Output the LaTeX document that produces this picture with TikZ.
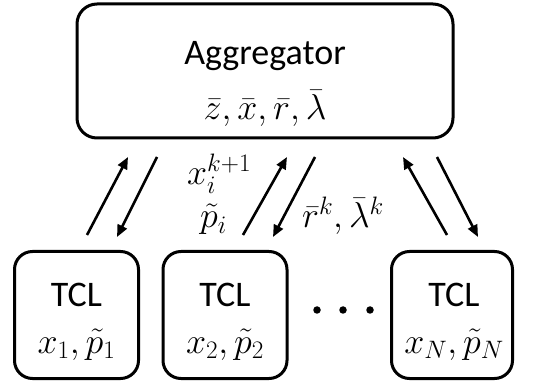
\RequirePackage{fix-cm}
\documentclass[tikz,border=0pt]{standalone}
\usepackage{fontspec}
\newfontfamily\boxfont{Carlito}
\usetikzlibrary{arrows.meta}
\tikzset{
  box/.style={draw, line width=3pt, rounded corners=20pt, inner sep=0pt},
  title/.style={font=\boxfont\fontsize{36}{40}\selectfont, inner sep=0pt, anchor=base},
  vars/.style={font=\fontsize{36}{40}\selectfont, inner sep=0pt, anchor=base},
  link/.style={line width=2.6pt, -{Triangle[length=12pt,width=10pt]}},
}
\begin{document}
\begin{tikzpicture}[x=1pt,y=-1pt]
\useasboundingbox (0,0) rectangle (539,385);

% aggregator
\node[box, minimum width=376pt, minimum height=134pt] (agg) at (265,71) {};
\node[title] (aggname) at (265,65) {Aggregator};
\node[vars] (aggvars) at (265,120) {$\bar z,\bar x,\bar r,\bar\lambda$};

% local units
\node[box, minimum width=124pt, minimum height=127pt, rounded corners=18pt] (tcl1) at (76.5,315) {};
\node[box, minimum width=124pt, minimum height=127pt, rounded corners=18pt] (tcl2) at (225,315) {};
\node[box, minimum width=121pt, minimum height=127pt, rounded corners=18pt] (tclN) at (452,315) {};
\foreach \n/\x/\v in {1/76.5/{x_1,\tilde p_1}, 2/225/{x_2,\tilde p_2}, N/454/{x_N,\tilde p_N}}{
  \node[title] (name\n) at (\x,307) {TCL};
  \node[vars] (vars\n) at (\x,353) {$\v$};
}

% ellipsis
\foreach \i/\x in {1/317,2/343,3/370}{
  \node[circle, fill, inner sep=0pt, minimum size=7.5pt] (dot\i) at (\x,310) {};
}

% message arrows
\coordinate (u1a) at (87,235);  \coordinate (u1b) at (128,157);
\coordinate (d1a) at (157,157); \coordinate (d1b) at (117,237);
\coordinate (u2a) at (243,235); \coordinate (u2b) at (287,157);
\coordinate (d2a) at (315,157); \coordinate (d2b) at (273,237);
\coordinate (uNa) at (447,235); \coordinate (uNb) at (403,157);
\coordinate (dNa) at (437,157); \coordinate (dNb) at (478,237);
\draw[link] (u1a) -- (u1b);
\draw[link] (d1a) -- (d1b);
\draw[link] (u2a) -- (u2b);
\draw[link] (d2a) -- (d2b);
\draw[link] (uNa) -- (uNb);
\draw[link] (dNa) -- (dNb);

% labels
\node[vars, anchor=base west] (upx) at (187,185) {$x_i^{k+1}$};
\node[vars, anchor=base west] (upp) at (200,228) {$\tilde p_i$};
\node[vars, anchor=base west] (down) at (302,228) {$\bar r^k,\bar\lambda^k$};
\end{tikzpicture}
\end{document}
